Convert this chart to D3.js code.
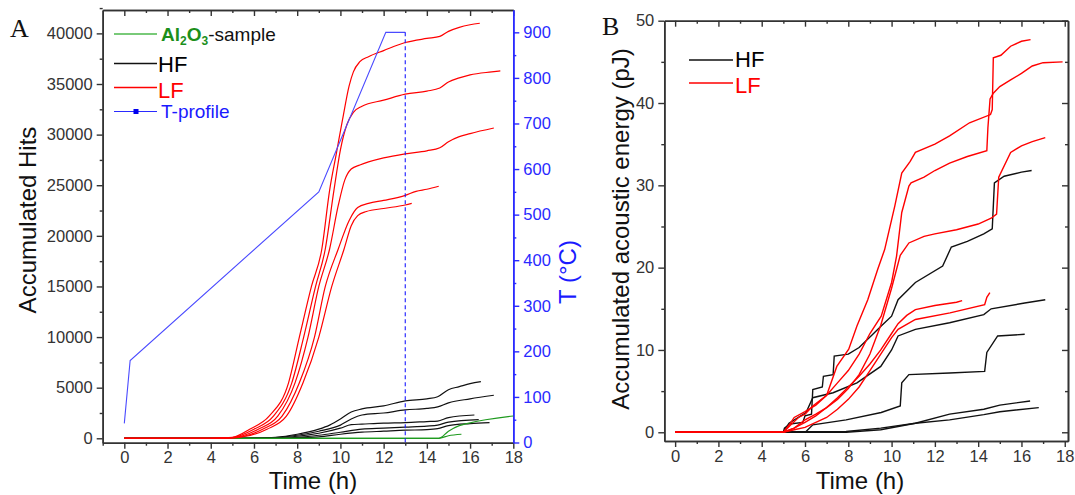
<!DOCTYPE html>
<html>
<head>
<meta charset="utf-8">
<script src="https://cdn.jsdelivr.net/npm/d3@7/dist/d3.min.js"></script>
<style>
  body { margin: 0; background: #fff; }
  svg { font-family: "Liberation Sans", Arial, sans-serif; }
</style>
</head>
<body>
<svg id="chart" width="1075" height="495"></svg>
<script>
// ---- data ----
var timeTicks = [0, 2, 4, 6, 8, 10, 12, 14, 16, 18];
var hitsTicks = [0, 5000, 10000, 15000, 20000, 25000, 30000, 35000, 40000];
var tempTicks = [0, 100, 200, 300, 400, 500, 600, 700, 800, 900];
var energyTicks = [0, 10, 20, 30, 40, 50];

// panel A : T-profile (h, degC)
var tProfile = [[0, 42], [0.27, 180], [9, 550], [12.1, 900], [13, 900]];
var holdEnd = 13;

// panel A : LF accumulated hits
var lfA1 = [[0,0],[4,0],[5,100],[5.8,900],[6.7,2180],[7.6,5480],[8.1,10000],[8.66,15000],[9.14,18700],[9.5,24500],[9.8,28000],[10.1,31500],[10.4,34800],[10.6,36200],[10.9,37200],[11.3,37700],[12,38300],[13,39100],[14,39500],[14.6,39700],[15,40200],[15.5,40600],[16,40850],[16.45,41000]];
var lfA2 = [[0,0],[4,0],[5,80],[6,900],[6.9,2180],[7.75,5480],[8.3,10000],[8.85,15000],[9.3,18700],[9.7,24500],[10,28500],[10.3,31000],[10.6,32200],[11,32800],[12,33400],[13,34000],[14,34300],[14.6,34600],[15,35200],[15.5,35600],[16,35900],[17,36200],[17.4,36300]];
var lfA3 = [[0,0],[4,0],[5,60],[6.2,900],[7.1,2180],[7.9,5480],[8.5,10000],[9,15000],[9.5,18700],[9.9,23000],[10.2,25500],[10.5,26600],[10.9,27000],[11.3,27300],[12,27700],[13,28100],[14,28400],[14.6,28700],[15,29300],[15.5,29800],[16,30100],[17.1,30650]];
var lfA4 = [[0,0],[4,0],[5,50],[6.4,900],[7.3,2180],[8.1,5480],[8.8,10000],[9.3,15000],[9.9,18700],[10.4,21500],[10.8,22800],[11.3,23200],[12,23500],[13,24000],[13.5,24400],[14,24600],[14.55,24900]];
var lfA5 = [[0,0],[4,0],[5,40],[6.6,900],[7.5,2180],[8.27,5480],[9,10000],[9.6,15000],[10.17,18700],[10.5,21000],[10.8,22000],[11.2,22400],[12,22700],[13,23050],[13.3,23200]];

// panel A : HF accumulated hits
var hfA1 = [[0,0],[5,0],[6,20],[7,100],[8,400],[9,900],[9.5,1300],[10,1900],[10.5,2600],[11,2900],[12,3200],[13,3700],[14,3900],[14.5,4100],[15,4800],[15.5,5100],[16,5400],[16.5,5600]];
var hfA2 = [[0,0],[5,0],[7,80],[8,300],[9,700],[10,1300],[10.5,1900],[11,2300],[12,2500],[13,2800],[14,2950],[14.5,3100],[15,3500],[16,3900],[17.1,4250]];
var hfA3 = [[0,0],[6,0],[7,50],[8,200],[9,500],[10,1000],[10.5,1350],[11,1400],[12,1500],[13,1550],[14,1650],[14.5,1700],[15,2050],[16.2,2300]];
var hfA4 = [[0,0],[7,0],[8,100],[9,300],[10,600],[11,900],[12,1000],[13,1100],[14,1200],[14.5,1300],[15,1600],[16.4,1850]];
var hfA5 = [[0,0],[7,0],[8,50],[9,150],[10,400],[11,600],[12,700],[13,800],[14,850],[14.5,950],[15,1250],[16,1450],[16.9,1550]];

// panel A : Al2O3 reference sample
var alA1 = [[0,0],[14.55,0],[15,700],[15.5,1250],[15.9,1480],[18,2200]];
var alA2 = [[0,0],[14.55,0],[15,250],[15.6,400]];

// panel B : LF accumulated energy (pJ)
var lfB1 = [[0,0],[5,0],[5.3,1],[5.5,1.8],[6,2.5],[6.5,3.3],[7,4.5],[7.47,8],[8.02,10.1],[8.4,12.9],[8.9,16.1],[9.36,19.8],[9.68,22.2],[10.15,27.5],[10.47,31.5],[10.86,32.9],[11.1,34],[12,35],[12.68,36],[13.6,37.6],[14.57,38.6],[14.65,39.2],[14.7,45.5],[15.05,45.8],[15.5,46.9],[16,47.5],[16.42,47.7]];
var lfB2 = [[0,0],[5,0],[5.3,0.8],[5.7,1.8],[6,2.2],[6.36,3.2],[7,4.5],[7.5,6],[8,7.5],[8.5,9.5],[9,12],[9.52,14.1],[10,18.2],[10.23,21.4],[10.47,26.7],[10.8,29.9],[10.9,30.3],[11.5,31],[12,31.8],[12.68,32.7],[13.5,33.5],[14.4,34.2],[14.45,37],[14.55,40.5],[14.7,41.2],[15,42],[15.5,42.8],[16,43.6],[16.5,44.5],[17,44.9],[17.9,45]];
var lfB3 = [[0,0],[5,0],[5.5,0.5],[6,1.5],[6.5,2.2],[7,3],[7.5,4],[8,5.3],[8.5,7],[9,9.5],[9.5,13],[10,17.5],[10.4,21.5],[10.8,23],[11.5,23.8],[12,24.1],[13,24.6],[14,25.3],[14.6,26],[14.85,26.5],[14.95,31],[15.5,34],[16,34.8],[16.5,35.3],[17.1,35.8]];
var lfB4 = [[0,0],[5,0],[5.5,0.5],[6,1.2],[6.5,2],[7,3],[7.5,4.2],[8,5.5],[8.5,6.8],[9,8.3],[9.5,10],[10,12],[10.3,13.2],[10.7,14.2],[11.1,14.9],[12,15.4],[13,15.8],[13.26,16]];
var lfB5 = [[0,0],[5,0],[5.5,0.3],[6,0.6],[6.5,1.2],[7,1.8],[7.5,2.8],[8,4],[8.5,5.5],[9,7.5],[9.5,9.5],[10,11.5],[10.3,12.5],[11.1,13.7],[12.7,14.5],[14.3,15.5],[14.4,16.4],[14.54,16.96]];

// panel B : HF accumulated energy (pJ)
var hfB1 = [[0,0],[5,0],[5.05,0.5],[5.3,1],[5.9,1.2],[6,2],[6.3,2.2],[6.36,5.2],[6.8,5.5],[6.85,6.8],[7.3,7],[7.35,9.25],[8,9.5],[8.5,10.3],[9.05,11.7],[9.52,12.9],[10,14.1],[10.3,16.1],[11.1,18.2],[12.36,20.2],[12.76,22.5],[13.5,23.2],[14.26,24.1],[14.65,24.7],[14.75,30.3],[15.2,31.1],[16,31.6],[16.47,31.8]];
var hfB2 = [[0,0],[5,0],[5.26,1.1],[6.05,2.4],[6.36,4.2],[7.3,4.8],[8.4,6],[9.5,8],[10,10],[10.3,11.7],[11.1,12.5],[12.68,13.3],[14.26,14.3],[14.6,15],[16.15,15.7],[17.1,16.1]];
var hfB3 = [[0,0],[6,0],[6.05,0.1],[6.36,0.9],[7.9,1.5],[9.52,2.4],[10.4,3.2],[10.47,6],[10.8,7],[12.68,7.2],[14.3,7.4],[14.4,9.7],[14.9,11.7],[16.15,11.9]];
var hfB4 = [[0,0],[7.9,0.1],[9.5,0.5],[11.1,1.1],[12.68,2.2],[14.26,2.8],[15,3.3],[16.4,3.8]];
var hfB5 = [[0,0],[7.9,0],[9.5,0.3],[11.1,1.1],[12.68,1.5],[14.26,2.15],[15,2.5],[16.8,3]];

var RED = "#ff0000", BLACK = "#111111", GREEN = "#1f9a1f", BLUE = "#2a2aff", AXIS = "#333333";

var svg = d3.select("#chart");

// ---- scales ----
var xA = d3.scaleLinear().domain([-1, 18]).range([102.7, 513.3]);
var yA = d3.scaleLinear().domain([-435, 42310]).range([442.7, 10]);
var yT = d3.scaleLinear().domain([0, 949]).range([442.5, 10]);

var xB = d3.scaleLinear().domain([-0.5, 18.15]).range([664.3, 1068]);
var yB = d3.scaleLinear().domain([-1.06, 50]).range([441, 20.7]);

var plain = d3.format("d");

function odd(arr) {
  // minor tick positions half way between the majors
  var out = [];
  for (var i = 0; i < arr.length - 1; i++) out.push((arr[i] + arr[i + 1]) / 2);
  return out;
}

function styleAxis(g, color) {
  g.selectAll("path.domain").attr("stroke", color).attr("stroke-width", 1.6);
  g.selectAll(".tick line").attr("stroke", color).attr("stroke-width", 1.4);
  g.selectAll(".tick text").attr("fill", color).style("font-size", "16.5px")
    .style("font-family", "'Liberation Sans', Arial, sans-serif");
}

function drawAxis(gen, tx, ty, color) {
  var g = svg.append("g").attr("transform", "translate(" + tx + "," + ty + ")").call(gen);
  styleAxis(g, color);
  return g;
}

//////////////////////////////////////////////////////////////////
// panel A
var lineA = d3.line().x(function(d){ return xA(d[0]); }).y(function(d){ return yA(d[1]); }).curve(d3.curveMonotoneX);
var lineT = d3.line().x(function(d){ return xA(d[0]); }).y(function(d){ return yT(d[1]); });

// bottom / top
drawAxis(d3.axisBottom(xA).tickValues(odd(timeTicks).concat([-1])).tickSize(3).tickSizeOuter(0).tickFormat(""), 0, 442.7, AXIS);
drawAxis(d3.axisBottom(xA).tickValues(timeTicks).tickSize(6).tickSizeOuter(0).tickPadding(3).tickFormat(plain), 0, 442.7, AXIS);
drawAxis(d3.axisTop(xA).tickValues(odd(timeTicks)).tickSize(-3).tickSizeOuter(0).tickFormat(""), 0, 10, AXIS);
drawAxis(d3.axisTop(xA).tickValues(timeTicks).tickSize(-6).tickSizeOuter(0).tickFormat(""), 0, 10, AXIS);
// left
drawAxis(d3.axisLeft(yA).tickValues(odd(hitsTicks).concat([42500])).tickSize(3).tickSizeOuter(0).tickFormat(""), 102.7, 0, AXIS);
drawAxis(d3.axisLeft(yA).tickValues(hitsTicks).tickSize(6).tickSizeOuter(0).tickPadding(4).tickFormat(plain), 102.7, 0, AXIS);
// right (temperature)
drawAxis(d3.axisRight(yT).tickValues(odd(tempTicks)).tickSize(3).tickSizeOuter(0).tickFormat(""), 513.3, 0, BLUE);
drawAxis(d3.axisRight(yT).tickValues(tempTicks).tickSize(6).tickSizeOuter(0).tickPadding(4).tickFormat(plain), 513.3, 0, BLUE);

var gA = svg.append("g");
[hfA1, hfA2, hfA3, hfA4, hfA5].forEach(function(s){
  gA.append("path").attr("d", lineA(s)).attr("fill", "none").attr("stroke", BLACK).attr("stroke-width", 1.2);
});
[alA1, alA2].forEach(function(s){
  gA.append("path").attr("d", lineA(s)).attr("fill", "none").attr("stroke", GREEN).attr("stroke-width", 1.2);
});
[lfA1, lfA2, lfA3, lfA4, lfA5].forEach(function(s){
  gA.append("path").attr("d", lineA(s)).attr("fill", "none").attr("stroke", RED).attr("stroke-width", 1.2);
});
gA.append("path").attr("d", lineT(tProfile)).attr("fill", "none").attr("stroke", "#4a4aff").attr("stroke-width", 1.1);
// end of the hold
gA.append("line").attr("x1", xA(holdEnd)).attr("x2", xA(holdEnd))
  .attr("y1", yT(900)).attr("y2", 442.7)
  .attr("stroke", "#1a1aff").attr("stroke-width", 1.1).attr("stroke-dasharray", "4,3");

// legend A
var legA = svg.append("g");
legA.append("line").attr("x1", 114).attr("x2", 157).attr("y1", 34).attr("y2", 34).attr("stroke", "#4cb84c").attr("stroke-width", 1.4);
var al = legA.append("text").attr("x", 161).attr("y", 40.5).style("font-size", "19px");
al.append("tspan").attr("fill", "#1b8f1b").attr("font-weight", "bold").text("Al");
al.append("tspan").attr("fill", "#1b8f1b").attr("font-weight", "bold").attr("dy", 4).style("font-size", "12px").text("2");
al.append("tspan").attr("fill", "#1b8f1b").attr("font-weight", "bold").attr("dy", -4).text("O");
al.append("tspan").attr("fill", "#1b8f1b").attr("font-weight", "bold").attr("dy", 4).style("font-size", "12px").text("3");
al.append("tspan").attr("fill", "#111").attr("dy", -4).text("-sample");

legA.append("line").attr("x1", 114).attr("x2", 157).attr("y1", 63.5).attr("y2", 63.5).attr("stroke", BLACK).attr("stroke-width", 1.3);
legA.append("text").attr("x", 158).attr("y", 72).attr("fill", "#000").style("font-size", "22px").text("HF");
legA.append("line").attr("x1", 114).attr("x2", 157).attr("y1", 87.5).attr("y2", 87.5).attr("stroke", RED).attr("stroke-width", 1.3);
legA.append("text").attr("x", 158).attr("y", 97.5).attr("fill", RED).style("font-size", "22px").text("LF");
legA.append("line").attr("x1", 114).attr("x2", 157).attr("y1", 111.5).attr("y2", 111.5).attr("stroke", BLUE).attr("stroke-width", 1.1);
legA.append("rect").attr("x", 133.5).attr("y", 109).attr("width", 5).attr("height", 5).attr("fill", "#0000ee");
legA.append("text").attr("x", 161).attr("y", 118).attr("fill", "#1a1aff").style("font-size", "19px").text("T-profile");

// titles A
svg.append("text").attr("x", 313).attr("y", 489).attr("text-anchor", "middle").style("font-size", "24px").attr("fill", "#111").text("Time (h)");
svg.append("text").attr("transform", "translate(36,220) rotate(-90)").attr("text-anchor", "middle").style("font-size", "24px").attr("fill", "#111").text("Accumulated Hits");
svg.append("text").attr("transform", "translate(576,272) rotate(-90)").attr("text-anchor", "middle").style("font-size", "24px").attr("fill", "#1a1aff").text("T (\u00b0C)");
svg.append("text").attr("x", 10).attr("y", 37).style("font-family", "'Liberation Serif', 'Times New Roman', serif").style("font-size", "26px").attr("fill", "#111").text("A");

//////////////////////////////////////////////////////////////////
// panel B
var lineB = d3.line().x(function(d){ return xB(d[0]); }).y(function(d){ return yB(d[1]); });

drawAxis(d3.axisBottom(xB).tickValues(odd(timeTicks)).tickSize(3).tickSizeOuter(0).tickFormat(""), 0, 441, AXIS);
drawAxis(d3.axisBottom(xB).tickValues(timeTicks).tickSize(6).tickSizeOuter(0).tickPadding(3).tickFormat(plain), 0, 441, AXIS);
drawAxis(d3.axisTop(xB).tickValues(odd(timeTicks)).tickSize(-3).tickSizeOuter(0).tickFormat(""), 0, 20.7, AXIS);
drawAxis(d3.axisTop(xB).tickValues(timeTicks).tickSize(-6).tickSizeOuter(0).tickFormat(""), 0, 20.7, AXIS);
drawAxis(d3.axisLeft(yB).tickValues(odd(energyTicks)).tickSize(3).tickSizeOuter(0).tickFormat(""), 664.3, 0, AXIS);
drawAxis(d3.axisLeft(yB).tickValues(energyTicks).tickSize(6).tickSizeOuter(0).tickPadding(4).tickFormat(plain), 664.3, 0, AXIS);
drawAxis(d3.axisRight(yB).tickValues(odd(energyTicks)).tickSize(-3).tickSizeOuter(0).tickFormat(""), 1068, 0, AXIS);
drawAxis(d3.axisRight(yB).tickValues(energyTicks).tickSize(-6).tickSizeOuter(0).tickFormat(""), 1068, 0, AXIS);

var gB = svg.append("g");
[hfB1, hfB2, hfB3, hfB4, hfB5].forEach(function(s){
  gB.append("path").attr("d", lineB(s)).attr("fill", "none").attr("stroke", BLACK).attr("stroke-width", 1.4);
});
[lfB1, lfB2, lfB3, lfB4, lfB5].forEach(function(s){
  gB.append("path").attr("d", lineB(s)).attr("fill", "none").attr("stroke", RED).attr("stroke-width", 1.4);
});

// legend B
var legB = svg.append("g");
legB.append("line").attr("x1", 689).attr("x2", 733).attr("y1", 60).attr("y2", 60).attr("stroke", BLACK).attr("stroke-width", 1.3);
legB.append("text").attr("x", 735).attr("y", 67).attr("fill", "#000").style("font-size", "22px").text("HF");
legB.append("line").attr("x1", 689).attr("x2", 733).attr("y1", 83).attr("y2", 83).attr("stroke", RED).attr("stroke-width", 1.3);
legB.append("text").attr("x", 735).attr("y", 92.5).attr("fill", RED).style("font-size", "22px").text("LF");

svg.append("text").attr("x", 860).attr("y", 489).attr("text-anchor", "middle").style("font-size", "24px").attr("fill", "#111").text("Time (h)");
svg.append("text").attr("transform", "translate(629,229) rotate(-90)").attr("text-anchor", "middle").style("font-size", "24px").attr("fill", "#111").text("Accumulated acoustic energy (pJ)");
svg.append("text").attr("x", 602).attr("y", 35).style("font-family", "'Liberation Serif', 'Times New Roman', serif").style("font-size", "26px").attr("fill", "#111").text("B");
</script>
</body>
</html>
